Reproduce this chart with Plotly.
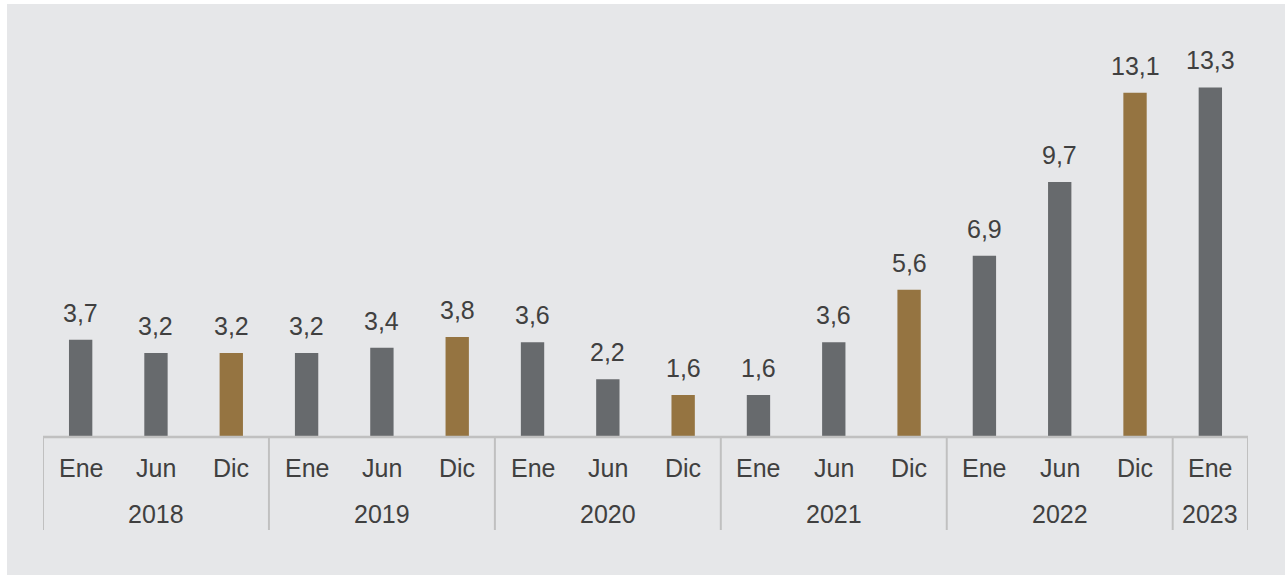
import plotly.graph_objects as go

# Data
months = ["Ene", "Jun", "Dic", "Ene", "Jun", "Dic", "Ene", "Jun", "Dic",
          "Ene", "Jun", "Dic", "Ene", "Jun", "Dic", "Ene"]
values = [3.7, 3.2, 3.2, 3.2, 3.4, 3.8, 3.6, 2.2, 1.6,
          1.6, 3.6, 5.6, 6.9, 9.7, 13.1, 13.3]
years = ["2018", "2019", "2020", "2021", "2022", "2023"]
year_sizes = [3, 3, 3, 3, 3, 1]

GRAY = "#676A6D"
GOLD = "#957441"
BG = "#E6E7E9"
TEXT = "#404040"
LINE = "#C0C0C0"
FONT = "Liberation Sans, Arial, sans-serif"

W, H = 1285, 575
L, R, T, B = 43, 37, 69, 138
pw, ph = W - L - R, H - T - B

x = list(range(len(values)))
colors = [GOLD if m == "Dic" else GRAY for m in months]

fig = go.Figure()
fig.add_trace(go.Bar(
    x=x, y=values, marker=dict(color=colors, line=dict(width=0)),
    width=0.31, hoverinfo="skip",
))

annotations = []
# value labels above the bars
for i, v in enumerate(values):
    annotations.append(dict(
        x=i, y=v, xref="x", yref="y", text=f"{v:.1f}".replace(".", ","),
        showarrow=False, yanchor="bottom", yshift=11,
        font=dict(size=25, color=TEXT, family=FONT),
    ))
# month labels
for i, m in enumerate(months):
    annotations.append(dict(
        x=i, y=0, xref="x", yref="paper", text=m, showarrow=False,
        yanchor="middle", yshift=-31,
        font=dict(size=25, color=TEXT, family=FONT),
    ))

shapes = []
# background panel
shapes.append(dict(
    type="rect", xref="paper", yref="paper", layer="below",
    x0=(7 - L) / pw, x1=(W - L) / pw, y0=-B / ph, y1=(T + ph - 4) / ph,
    fillcolor=BG, line=dict(width=0),
))
# axis base line
shapes.append(dict(
    type="line", xref="x", yref="paper", x0=-0.5, x1=len(values) - 0.5,
    y0=0, y1=0, line=dict(color=LINE, width=2.5),
))
# year group labels and separators
start = 0
bounds = [-0.5]
for yr, n in zip(years, year_sizes):
    annotations.append(dict(
        x=start + (n - 1) / 2, y=0, xref="x", yref="paper", text=yr,
        showarrow=False, yanchor="middle", yshift=-77,
        font=dict(size=25, color=TEXT, family=FONT),
    ))
    start += n
    bounds.append(start - 0.5)
for b in bounds:
    shapes.append(dict(
        type="line", xref="x", yref="paper", x0=b, x1=b,
        y0=0, y1=-93 / ph, line=dict(color=LINE, width=2),
    ))

fig.update_layout(
    width=W, height=H,
    margin=dict(l=L, r=R, t=T, b=B),
    paper_bgcolor="white", plot_bgcolor="rgba(0,0,0,0)",
    showlegend=False,
    xaxis=dict(range=[-0.5, len(values) - 0.5], showticklabels=False,
               showgrid=False, zeroline=False, ticks=""),
    yaxis=dict(range=[0, 14], visible=False, showgrid=False, zeroline=False),
    annotations=annotations, shapes=shapes,
)

fig.write_html("out.html")
